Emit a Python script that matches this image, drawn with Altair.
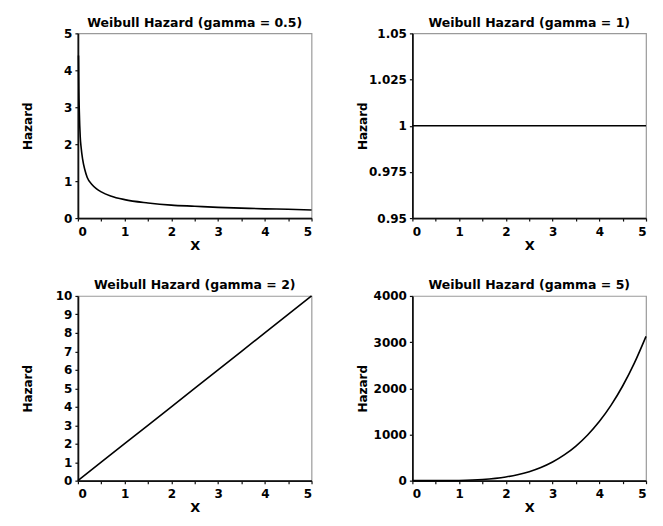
import altair as alt
import pandas as pd

# ---- data ----
x_g05 = [0.013, 0.02, 0.03, 0.05, 0.07, 0.1, 0.15, 0.2, 0.3, 0.4, 0.5, 0.7, 1.0,
         1.5, 2.0, 2.5, 3.0, 3.5, 4.0, 4.5, 5.0]
h_g05 = [4.4, 3.5, 2.9, 2.2, 1.9, 1.6, 1.3, 1.1, 0.91, 0.79, 0.71, 0.6, 0.5,
         0.41, 0.35, 0.32, 0.29, 0.27, 0.25, 0.24, 0.22]

x_g1 = [0.0, 5.0]
h_g1 = [1.0, 1.0]

x_g2 = [0, 1, 2, 3, 4, 5]
h_g2 = [0, 2, 4, 6, 8, 10]

x_g5 = [0, 0.5, 1, 1.5, 2, 2.25, 2.5, 2.75, 3, 3.25, 3.5, 3.75, 4, 4.25, 4.5, 4.75, 5]
h_g5 = [0, 0.3, 5, 25, 80, 128, 195, 286, 405, 558, 750, 990, 1280, 1630, 2050, 2545, 3125]

titles = ["Weibull Hazard (gamma = 0.5)", "Weibull Hazard (gamma = 1)",
          "Weibull Hazard (gamma = 2)", "Weibull Hazard (gamma = 5)"]
y_domains = [[0, 5], [0.95, 1.05], [0, 10], [0, 4000]]
y_ticks = [[0, 1, 2, 3, 4, 5],
           [0.95, 0.975, 1, 1.025, 1.05],
           [0, 1, 2, 3, 4, 5, 6, 7, 8, 9, 10],
           [0, 1000, 2000, 3000, 4000]]
x_ticks = [0, 0.5, 1, 1.5, 2, 2.5, 3, 3.5, 4, 4.5, 5]

W, H = 234, 185
FONT = "DejaVu Sans"


def panel(xs, hs, title, ydom, yticks):
    df = pd.DataFrame({"x": xs, "h": hs})
    return alt.Chart(df).mark_line(color="black", strokeWidth=1.6,
                                   interpolate="monotone").encode(
        x=alt.X("x:Q",
                scale=alt.Scale(domain=[0, 5], nice=False, zero=False),
                axis=alt.Axis(values=x_ticks, title="X",
                              labelExpr="datum.value % 1 == 0 ? format(datum.value, 'd') : ''",
                              titleY=27, titleBaseline="middle",
                              labelPadding=5)),
        y=alt.Y("h:Q",
                scale=alt.Scale(domain=ydom, nice=False, zero=False),
                axis=alt.Axis(values=yticks,
                              labelExpr="format(datum.value, '.4~g')",
                              title="Hazard",
                              titleX=-50, titleY=H / 2, titleAngle=-90,
                              titleAlign="center", titleBaseline="middle",
                              titleFontSize=12, labelPadding=3)),
    ).properties(
        width=W, height=H,
        title=alt.TitleParams(title, anchor="middle", fontSize=12.5, font=FONT,
                              fontWeight="bold", offset=-2, color="black"),
    )


charts = [
    panel(x_g05, h_g05, titles[0], y_domains[0], y_ticks[0]),
    panel(x_g1, h_g1, titles[1], y_domains[1], y_ticks[1]),
    panel(x_g2, h_g2, titles[2], y_domains[2], y_ticks[2]),
    panel(x_g5, h_g5, titles[3], y_domains[3], y_ticks[3]),
]

chart = alt.concat(*charts, columns=2, spacing={"row": 25, "column": 40}).properties(
    padding={"left": 13, "top": 7, "right": 5, "bottom": 2},
    background="white",
).configure_view(
    stroke="#9a9a9a", strokeWidth=1.2
).configure_axis(
    grid=False,
    domainColor="#111", domainWidth=1.8,
    tickColor="#111", tickSize=3, tickWidth=1.2,
    labelFont=FONT, labelFontWeight="bold", labelFontSize=12, labelColor="black",
    titleFont=FONT, titleFontWeight="bold", titleFontSize=13, titleColor="black",
)

chart.save("out.html", embed_options={"renderer": "svg", "actions": False})
